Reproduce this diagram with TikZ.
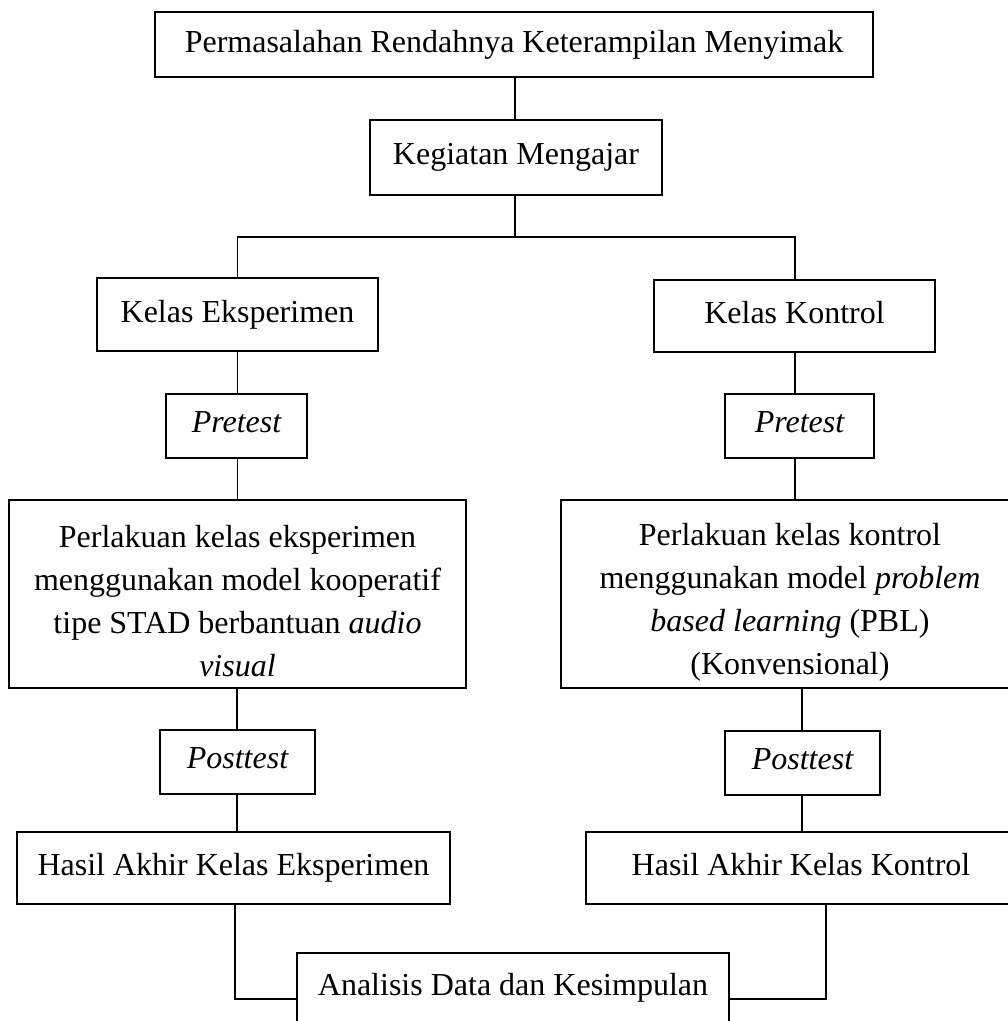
\documentclass[tikz,border=0pt]{standalone}
\usepackage{fontspec}
\setmainfont{Liberation Serif}
\begin{document}
\begin{tikzpicture}[x=1pt,y=-1pt,
  box/.style={draw, line width=1.2pt, inner sep=0pt, align=center,
    font=\fontsize{32}{43}\selectfont},
  flat/.style={box, text depth=7pt},
  link/.style={line width=1.2pt}]
\useasboundingbox (0,0) rectangle (1008,1021);
\clip (0,0) rectangle (1008,1021);

\node[box, minimum width=718pt, minimum height=65pt] (top) at (514,44.5)
  {Permasalahan Rendahnya Keterampilan Menyimak};
\node[box, minimum width=292pt, minimum height=75pt] (keg) at (516,157.5)
  {Kegiatan Mengajar};
\node[box, minimum width=281pt, minimum height=73pt] (ke) at (237.5,314.5)
  {Kelas Eksperimen};
\node[flat, minimum width=281pt, minimum height=72pt] (kk) at (794.5,316)
  {Kelas Kontrol};
\node[flat, minimum width=141pt, minimum height=64pt] (prel) at (236.5,426)
  {\itshape Pretest};
\node[flat, minimum width=149pt, minimum height=64pt] (prer) at (799.5,426)
  {\itshape Pretest};
\node[box, minimum width=457pt, minimum height=188pt] (perll) at (237.5,594)
  {\rule{0pt}{37pt}Perlakuan kelas eksperimen\\menggunakan model kooperatif\\tipe STAD berbantuan \textit{audio}\\\textit{visual}};
\node[box, minimum width=458pt, minimum height=188pt] (perlr) at (790,594)
  {\rule{0pt}{39pt}Perlakuan kelas kontrol\\menggunakan model \textit{problem}\\\textit{based learning} (PBL)\\(Konvensional)};
\node[flat, minimum width=155pt, minimum height=64pt] (postl) at (237.5,762)
  {\itshape Posttest};
\node[flat, minimum width=155pt, minimum height=64pt] (postr) at (802.5,763)
  {\itshape Posttest};
\node[box, minimum width=433pt, minimum height=72pt] (hasl) at (233.5,868)
  {Hasil Akhir Kelas Eksperimen};
\node[flat, minimum width=430pt, minimum height=72pt] (hasr) at (801,868)
  {Hasil Akhir Kelas Kontrol};
\node[box, minimum width=432pt, minimum height=70pt] (ana) at (513,988)
  {Analisis Data dan Kesimpulan};

\coordinate (br) at (515,237);
\coordinate (jy) at (0,999);

\draw[link] (keg.north -| 515,0) -- (top.south -| 515,0);
\draw[link] (keg.south -| br) -- (br);
\draw[link] (ke.north) |- (br) -| (kk.north -| 795,0);
\draw[link] (ke.south) -- (ke.south |- prel.north);
\draw[link] (prel.south -| ke.south) -- (perll.north -| ke.south);
\draw[link] (kk.south -| 795,0) -- (prer.north -| 795,0);
\draw[link] (prer.south -| 795,0) -- (perlr.north -| 795,0);
\draw[link] (perll.south -| 237,0) -- (postl.north -| 237,0);
\draw[link] (postl.south -| 237,0) -- (hasl.north -| 237,0);
\draw[link] (perlr.south -| 802,0) -- (postr.north -| 802,0);
\draw[link] (postr.south -| 802,0) -- (hasr.north -| 802,0);
\draw[link] (hasl.south -| 235,0) |- (ana.west |- jy);
\draw[link] (hasr.south -| 826,0) |- (ana.east |- jy);
\end{tikzpicture}
\end{document}
